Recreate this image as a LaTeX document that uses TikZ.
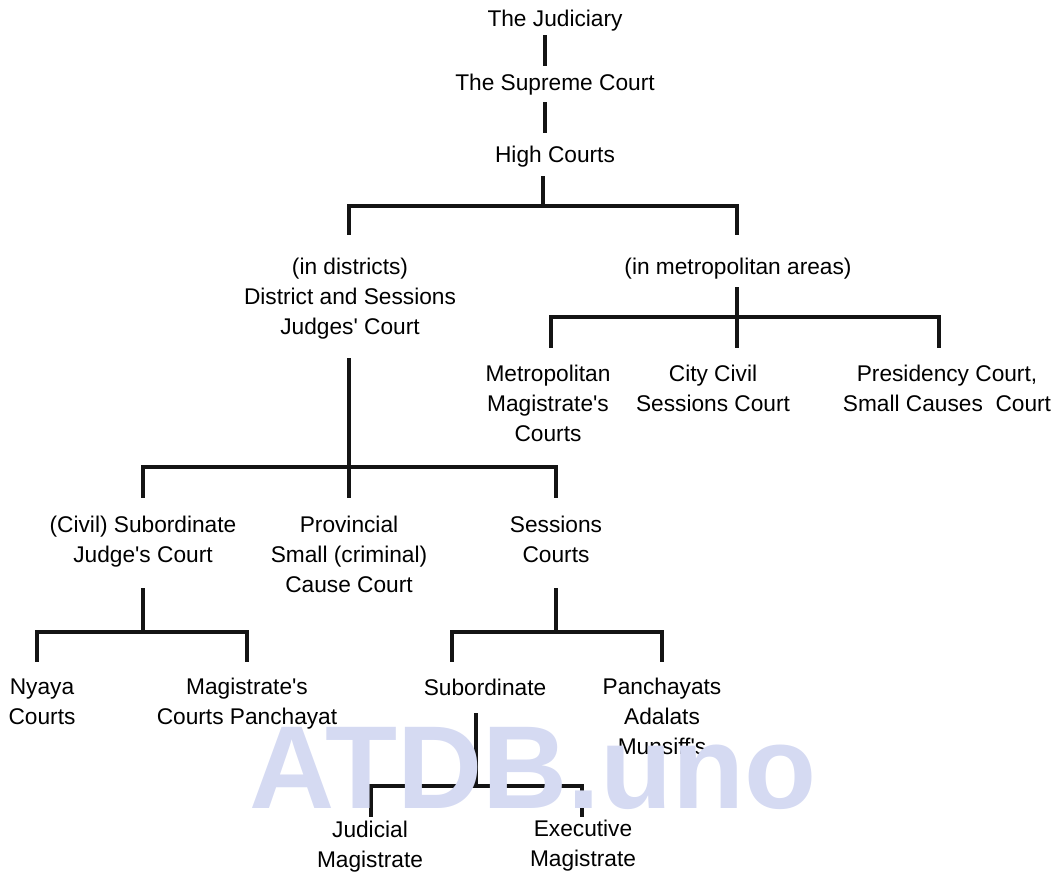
\documentclass[tikz,border=0pt]{standalone}
\usepackage{fontspec}
\setmainfont{Liberation Sans}[Ligatures=TeXOff]
\definecolor{wm}{RGB}{213,218,242}
\begin{document}
\begin{tikzpicture}[x=1pt,y=-1pt,
  lbl/.style={font=\fontsize{22.7}{30}\selectfont, align=center, inner sep=0pt},
  conn/.style={line width=3.1pt, line cap=rect, black!92}]
\useasboundingbox (0,0) rectangle (1053,874);
% ---- nodes ----
\node[lbl] (jud) at (555,21) {The Judiciary};
\node[lbl] (sc)  at (555,85) {The Supreme Court};
\node[lbl] (hc)  at (555,157) {High Courts};
\node[lbl] (dist) at (350,299) {(in districts)\\District and Sessions\\Judges' Court};
\node[lbl] (metro) at (738,269) {(in metropolitan areas)};
\node[lbl] (mmc) at (548,403) {Metropolitan\\Magistrate's\\Courts};
\node[lbl] (ccs) at (713,388) {City Civil\\Sessions Court};
\node[lbl] (pres) at (947,388) {Presidency Court,\\Small Causes\ \ Court};
\node[lbl] (civ) at (143,542) {(Civil) Subordinate\\Judge's Court};
\node[lbl] (prov) at (349,554) {Provincial\\Small (criminal)\\Cause Court};
\node[lbl] (sess) at (556,539) {Sessions\\Courts};
\node[lbl] (nyaya) at (42,702) {Nyaya\\Courts};
\node[lbl] (magp) at (247,704) {Magistrate's\\Courts Panchayat};
\node[lbl] (sub) at (485,687) {Subordinate};
\node[lbl] (panch) at (662,716) {Panchayats\\Adalats\\Munsiff's};
\node[lbl] (jm) at (370,847) {Judicial\\Magistrate};
\node[lbl] (em) at (583,846) {Executive\\Magistrate};
% ---- connector points ----
\coordinate (a1) at (545,37);  \coordinate (a2) at (545,64);
\coordinate (b1) at (545,104); \coordinate (b2) at (545,131);
\coordinate (c1) at (543,178); \coordinate (c2) at (543,206);
\coordinate (cL) at (349,206); \coordinate (cLd) at (349,233);
\coordinate (cR) at (737,206); \coordinate (cRd) at (737,233);
\coordinate (d1) at (737,289); \coordinate (d2) at (737,346);
\coordinate (dL) at (551,317); \coordinate (dLd) at (551,346);
\coordinate (dR) at (939,317); \coordinate (dRd) at (939,346);
\coordinate (e1) at (349,360); \coordinate (e2) at (349,496);
\coordinate (eL) at (143,467); \coordinate (eLd) at (143,496);
\coordinate (eR) at (556,467); \coordinate (eRd) at (556,496);
\coordinate (f1) at (143,590); \coordinate (f2) at (143,632);
\coordinate (fL) at (37,632);  \coordinate (fLd) at (37,660);
\coordinate (fR) at (247,632); \coordinate (fRd) at (247,660);
\coordinate (g1) at (556,590); \coordinate (g2) at (556,632);
\coordinate (gL) at (452,632); \coordinate (gLd) at (452,660);
\coordinate (gR) at (662,632); \coordinate (gRd) at (662,660);
\coordinate (h1) at (476,715); \coordinate (h2) at (476,786);
\coordinate (hL) at (371,786); \coordinate (hLd) at (371,815);
\coordinate (hR) at (582,786); \coordinate (hRd) at (582,815);
% ---- connectors ----
\draw[conn] (a1) -- (a2);
\draw[conn] (b1) -- (b2);
\draw[conn] (c1) -- (c2);
\draw[conn] (cLd) -- (cL) -- (cR) -- (cRd);
\draw[conn] (d1) -- (d2);
\draw[conn] (dLd) -- (dL) -- (dR) -- (dRd);
\draw[conn] (e1) -- (e2);
\draw[conn] (eLd) -- (eL) -- (eR) -- (eRd);
\draw[conn] (f1) -- (f2);
\draw[conn] (fLd) -- (fL) -- (fR) -- (fRd);
\draw[conn] (g1) -- (g2);
\draw[conn] (gLd) -- (gL) -- (gR) -- (gRd);
\draw[conn] (h1) -- (h2);
\draw[conn] (hLd) -- (hL) -- (hR) -- (hRd);
% ---- watermark ----
\node[inner sep=0pt, anchor=base, text=wm, font=\fontsize{118}{118}\selectfont\bfseries] (wmk) at (533,808) {ATDB.uno};
\end{tikzpicture}
\end{document}
